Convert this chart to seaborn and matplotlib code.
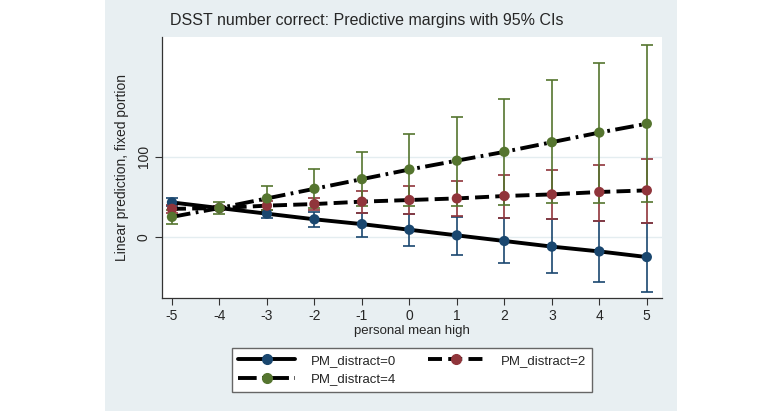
import numpy as np
import pandas as pd
import seaborn as sns
import matplotlib.pyplot as plt
from matplotlib.patches import Rectangle
from matplotlib.lines import Line2D

# values
pm_high = [-5, -4, -3, -2, -1, 0, 1, 2, 3, 4, 5]

m0 = [43, 36, 29, 22, 16, 9, 2, -5, -12, -18, -25]
lo0 = [38, 33, 24, 12, 0, -11, -22, -33, -45, -56, -68]
hi0 = [48, 39, 34, 31, 30, 28, 25, 24, 22, 20, 18]

m2 = [35, 36, 39, 41, 44, 46, 48, 51, 53, 56, 58]
lo2 = [30, 33, 33, 33, 30, 28, 26, 24, 22, 20, 18]
hi2 = [40, 39, 45, 49, 57, 64, 70, 77, 84, 90, 97]

m4 = [25, 36, 48, 60, 72, 84, 95, 106, 118, 130, 141]
lo4 = [16, 29, 34, 36, 38, 39, 39, 40, 42, 42, 43]
hi4 = [34, 44, 63, 85, 106, 128, 150, 172, 195, 217, 239]

labels = ['PM_distract=0', 'PM_distract=2', 'PM_distract=4']
colors = ['#1a476f', '#90353b', '#55752f']
styles = ['-', (0, (3.6, 1.6)), (0, (4.8, 1.4, 0.7, 1.4))]

rows = []
for lab, m, lo, hi in zip(labels, [m0, m2, m4], [lo0, lo2, lo4], [hi0, hi2, hi4]):
    for xv, mv, lv, hv in zip(pm_high, m, lo, hi):
        rows.append({'x': xv, 'margin': mv, 'lo': lv, 'hi': hv, 'group': lab})
df = pd.DataFrame(rows)

sns.set_style('white')
plt.rcParams['font.family'] = ['Liberation Sans', 'DejaVu Sans']
plt.rcParams['axes.unicode_minus'] = False

fig = plt.figure(figsize=(7.82, 4.11), dpi=100)
fig.patch.set_facecolor('white')
# stata graph region, behind everything
fig.patches.append(Rectangle((105 / 782, 0), 572 / 782, 1, transform=fig.transFigure,
                             facecolor='#e8eff2', edgecolor='none', zorder=-10))

ax = fig.add_axes([162 / 782, 113 / 411, 500 / 782, 261 / 411])
ax.set_facecolor('white')

for y in [0, 100]:
    ax.axhline(y, color='#e4edf0', lw=1, zorder=0)

for lab, col, ls in zip(labels, colors, styles):
    d = df[df['group'] == lab]
    ax.errorbar(d['x'], d['margin'], yerr=[d['margin'] - d['lo'], d['hi'] - d['margin']],
                fmt='none', ecolor=col, elinewidth=1.2, capsize=4.5, capthick=1.2, zorder=2)

for lab, col, ls in zip(labels, colors, styles):
    d = df[df['group'] == lab]
    sns.lineplot(data=d, x='x', y='margin', color='black', lw=2.8, linestyle=ls,
                 ax=ax, zorder=3, errorbar=None)
    sns.scatterplot(data=d, x='x', y='margin', color=col, s=55, edgecolor='none',
                    ax=ax, zorder=4, legend=False)

ax.set_xlim(-5.21, 5.32)
ax.set_ylim(-76, 249)
ax.set_xticks(pm_high)
ax.set_yticks([0, 100])
ax.set_yticklabels(['0', '100'], rotation=90, va='center')
ax.tick_params(axis='both', direction='out', length=5, width=0.8, color='#333333',
               labelsize=10, pad=3, left=True, bottom=True)
for s in ['top', 'right']:
    ax.spines[s].set_visible(False)
for s in ['left', 'bottom']:
    ax.spines[s].set_color('#333333')
    ax.spines[s].set_linewidth(0.9)

ax.set_xlabel('personal mean high', fontsize=9.5, labelpad=1)
ax.set_ylabel('Linear prediction, fixed portion', fontsize=10, labelpad=6)

fig.text(367 / 782, 1 - 20 / 411, 'DSST number correct: Predictive margins with 95% CIs',
         ha='center', va='center', fontsize=11.5)

handles = []
for col, ls in zip(colors, styles):
    handles.append(Line2D([0], [0], color='black', lw=2.8, linestyle=ls, marker='o',
                          markersize=7, markerfacecolor=col, markeredgecolor=col))
order = [0, 2, 1]
leg = fig.legend([handles[i] for i in order], [labels[i] for i in order],
                 loc='center', bbox_to_anchor=(412 / 782, 1 - 370 / 411), ncol=2,
                 fontsize=9.5, frameon=True, fancybox=False, edgecolor='#666666',
                 framealpha=1, handlelength=4.3, columnspacing=2.4, handletextpad=1.2,
                 borderpad=0.5, labelspacing=0.5, numpoints=1)
leg.get_frame().set_linewidth(1.0)

fig.savefig('out.png', dpi=100)
